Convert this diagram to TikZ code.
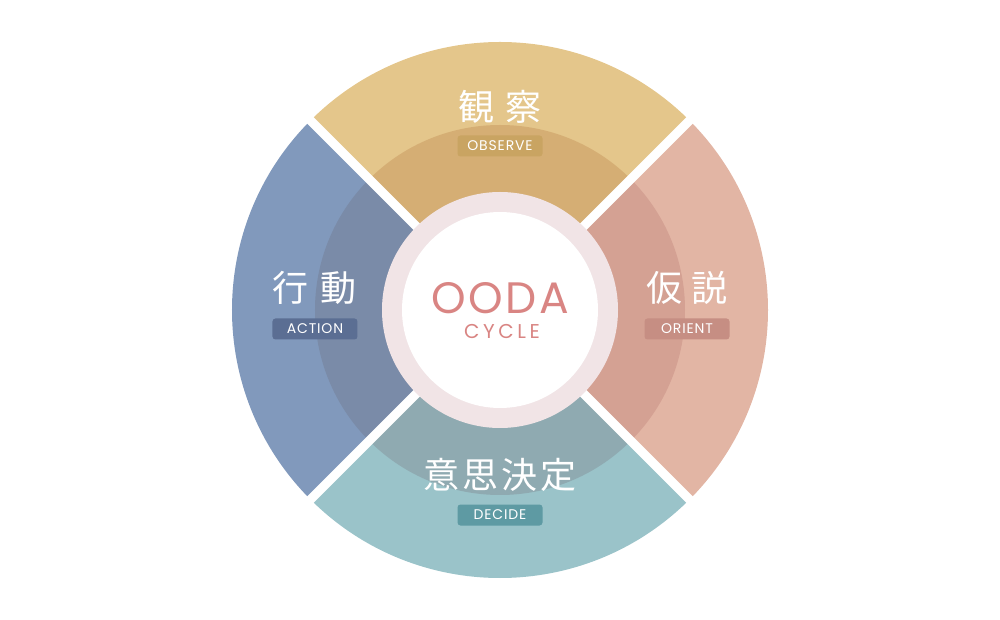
\documentclass[tikz,border=0pt]{standalone}
\usepackage{fontspec}
\setmainfont{Poppins}
\newfontfamily\jpfont{Noto Sans CJK JP}
\usetikzlibrary{calc}

\definecolor{obsout}{HTML}{E4C68B}
\definecolor{obsin}{HTML}{D5AE74}
\definecolor{obstag}{HTML}{C9A462}
\definecolor{oriout}{HTML}{E2B5A4}
\definecolor{oriin}{HTML}{D4A193}
\definecolor{oritag}{HTML}{C68E83}
\definecolor{decout}{HTML}{9AC3C9}
\definecolor{decin}{HTML}{8FAAB1}
\definecolor{dectag}{HTML}{5E9AA3}
\definecolor{actout}{HTML}{8199BC}
\definecolor{actin}{HTML}{7A8BA8}
\definecolor{acttag}{HTML}{5B6E93}
\definecolor{ringpink}{HTML}{F1E4E6}
\definecolor{oodapink}{HTML}{D98583}

\tikzset{
  jptext/.style={text=white, inner sep=0pt, font=\jpfont\fontsize{36}{40}\selectfont},
  tagbox/.style={fill=#1, rounded corners=3pt, text=white, inner sep=0pt,
    minimum width=85pt, minimum height=21pt,
    font=\addfontfeature{LetterSpace=6}\fontsize{14}{16}\selectfont},
  centretext/.style={text=oodapink, inner sep=0pt, anchor=base, text depth=0pt},
}

\def\sector[#1](#2:#3:#4){\fill[#1] (0,0) -- (#2:#4) arc (#2:#3:#4) -- cycle;}

\begin{document}
\begin{tikzpicture}[x=1pt, y=1pt]
		%%%%% START %%%%%
		\useasboundingbox (-500,-310) rectangle (500,310);
		
		% outer band
		\sector[obsout](45:135:268)
		\sector[oriout](-45:45:268)
		\sector[decout](-135:-45:268)
		\sector[actout](135:225:268)
		
		% darker inner band
		\sector[obsin](45:135:185)
		\sector[oriin](-45:45:185)
		\sector[decin](-135:-45:185)
		\sector[actin](135:225:185)
		
		% white gaps
		\draw[white, line width=9pt] (45:280) -- (225:280);
		\draw[white, line width=9pt] (135:280) -- (-45:280);
		
		% centre
		\fill[ringpink] (0,0) circle (118);
		\fill[white] (0,0) circle (98);
		
		\node[centretext, text height=31pt, font=\addfontfeature{LetterSpace=6}\fontsize{44}{48}\selectfont] (ooda) at (0,-3.5) {OODA};
		\node[centretext, text height=15pt, font=\addfontfeature{LetterSpace=18}\fontsize{20}{24}\selectfont] (cycle) at (2,-29) {CYCLE};
		
		\node[jptext] (obs) at (0,203) {観\hspace{12pt}察};
		\node[tagbox=obstag] (obstagbox) at (0,164) {OBSERVE};
		
		\node[jptext] (ori) at (187,22) {仮\hspace{10pt}説};
		\node[tagbox=oritag] (oritagbox) at (187,-19) {ORIENT};
		
		\node[jptext] (dec) at (0,-165) {意\hspace{3pt}思\hspace{3pt}決\hspace{3pt}定};
		\node[tagbox=dectag] (dectagbox) at (0,-205) {DECIDE};
		
		\node[jptext] (act) at (-185,22) {行\hspace{12pt}動};
		\node[tagbox=acttag] (acttagbox) at (-185,-19) {ACTION};
		
		%%%%% END %%%%%
	\end{tikzpicture}
\end{document}
